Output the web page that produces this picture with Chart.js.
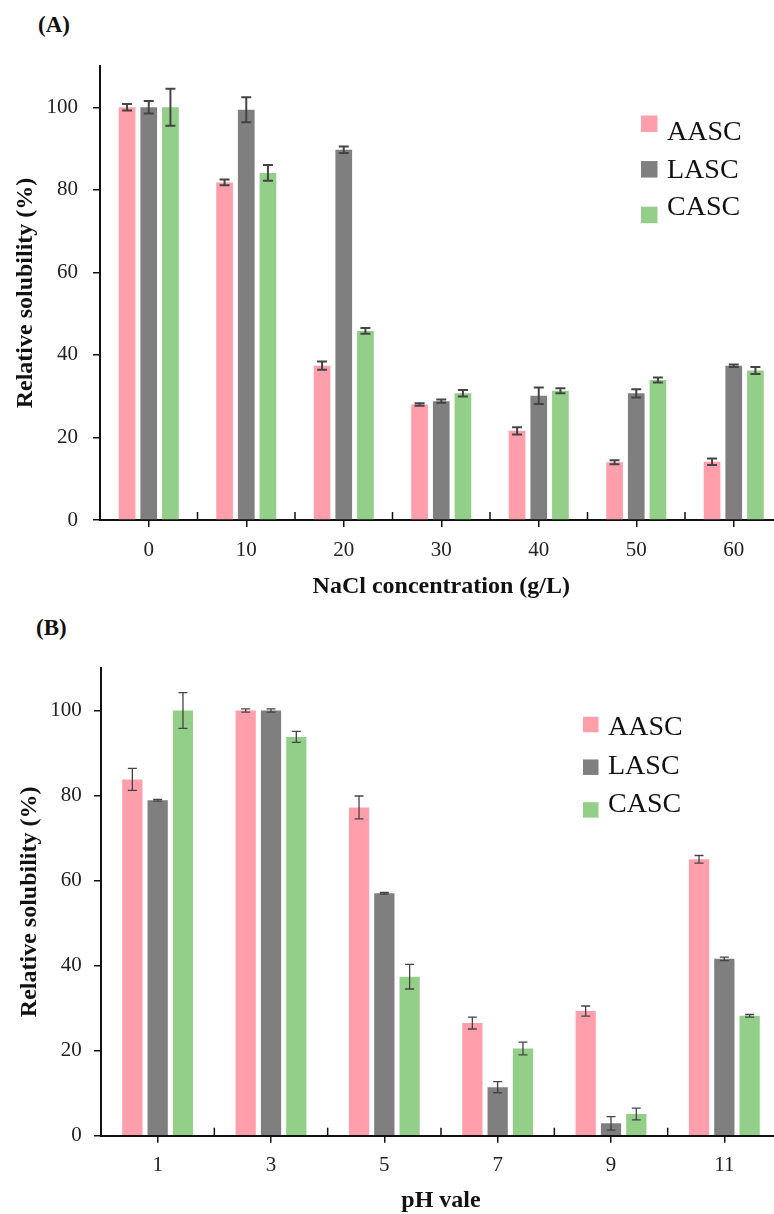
<!DOCTYPE html>
<html>
<head>
<meta charset="utf-8">
<script src="https://cdn.jsdelivr.net/npm/chart.js@4.4.1/dist/chart.umd.min.js"></script>
<style>
  html, body { margin: 0; padding: 0; background: #fff; overflow: hidden; width: 774px; height: 1214px; }
  canvas { position: absolute; left: 0; }
  .tag { position: absolute; font: bold 23px "Liberation Serif", serif; line-height: 23px; color: #111; }
</style>
</head>
<body>
<div class="tag" style="left:38px; top:13px">(A)</div>
<div class="tag" style="left:36px; top:616px">(B)</div>
<canvas id="naclChart" width="790" height="610" style="top:0"></canvas>
<canvas id="phChart" width="790" height="604" style="top:610px"></canvas>
<script>
// series names
const seriesNames = ['AASC', 'LASC', 'CASC'];

// (A) NaCl concentration (g/L)
const naclLabels = ['0', '10', '20', '30', '40', '50', '60'];
const naclAASC = [100, 81.8, 37.4, 28.0, 21.6, 14.0, 14.1];
const naclAASCErr = [0.8, 0.7, 1.0, 0.3, 0.9, 0.5, 0.8];
const naclLASC = [100, 99.4, 89.7, 28.8, 30.1, 30.7, 37.4];
const naclLASCErr = [1.5, 3.0, 0.8, 0.4, 2.0, 1.0, 0.3];
const naclCASC = [100, 84.1, 45.8, 30.7, 31.3, 33.9, 36.2];
const naclCASCErr = [4.5, 1.9, 0.7, 0.8, 0.6, 0.6, 0.85];

// (B) pH
const phLabels = ['1', '3', '5', '7', '9', '11'];
const phAASC = [83.8, 100, 77.2, 26.5, 29.3, 65.0];
const phAASCErr = [2.6, 0.4, 2.7, 1.4, 1.2, 0.9];
const phLASC = [78.9, 100, 57.0, 11.4, 2.9, 41.6];
const phLASCErr = [0.2, 0.4, 0.2, 1.3, 1.6, 0.4];
const phCASC = [100, 93.8, 37.4, 20.5, 5.1, 28.2];
const phCASCErr = [4.2, 1.3, 2.9, 1.5, 1.4, 0.3];

const yTicks = [0, 20, 40, 60, 80, 100];
const yMax = 110;

const barColors = ['#ff9fac', '#7f7f7f', '#93cf88'];
const serif = '"Liberation Serif", "Times New Roman", serif';

// error bars drawn on top of the bars
const errorBars = {
  id: 'errorBars',
  afterDatasetsDraw(chart, args, opts) {
    const ctx = chart.ctx;
    const y = chart.scales.y;
    ctx.save();
    ctx.strokeStyle = opts.color;
    ctx.lineWidth = opts.width;
    chart.data.datasets.forEach((ds, i) => {
      const meta = chart.getDatasetMeta(i);
      meta.data.forEach((bar, j) => {
        const v = ds.data[j], e = ds.errors[j];
        const top = y.getPixelForValue(v + e);
        const bot = y.getPixelForValue(v - e);
        const half = opts.cap / 2;
        ctx.beginPath();
        ctx.moveTo(bar.x, top); ctx.lineTo(bar.x, bot);
        ctx.moveTo(bar.x - half, top); ctx.lineTo(bar.x + half, top);
        ctx.moveTo(bar.x - half, bot); ctx.lineTo(bar.x + half, bot);
        ctx.stroke();
      });
    });
    ctx.restore();
  }
};

// small upward ticks between categories
const boundaryTicks = {
  id: 'boundaryTicks',
  afterDraw(chart, args, opts) {
    const ctx = chart.ctx;
    const x = chart.scales.x;
    const base = chart.chartArea.bottom;
    ctx.save();
    ctx.strokeStyle = '#111';
    ctx.lineWidth = 1.5;
    for (let i = 0; i <= chart.data.labels.length; i++) {
      const px = x.getPixelForValue(i - 0.5);
      ctx.beginPath();
      ctx.moveTo(px, base);
      ctx.lineTo(px, base - opts.len);
      ctx.stroke();
    }
    ctx.restore();
  }
};

// legend box in the upper right
const sideLegend = {
  id: 'sideLegend',
  afterDraw(chart, args, o) {
    const ctx = chart.ctx;
    ctx.save();
    ctx.font = o.size + 'px ' + serif;
    ctx.textBaseline = 'middle';
    ctx.fillStyle = '#111';
    chart.data.datasets.forEach((ds, i) => {
      ctx.fillStyle = ds.backgroundColor;
      ctx.fillRect(o.boxX, o.boxY + i * o.boxGap - o.box / 2, o.box, o.box);
      ctx.fillStyle = '#111';
      ctx.fillText(ds.label, o.textX, o.textY + i * o.textGap);
    });
    ctx.restore();
  }
};

function makeChart(id, labels, values, errors, cfg) {
  return new Chart(document.getElementById(id), {
    type: 'bar',
    data: {
      labels,
      datasets: seriesNames.map((name, i) => ({
        label: name,
        data: values[i],
        errors: errors[i],
        backgroundColor: barColors[i],
        barPercentage: cfg.barPct,
        categoryPercentage: cfg.catPct
      }))
    },
    options: {
      responsive: false,
      animation: false,
      layout: { padding: cfg.padding },
      plugins: {
        legend: { display: false },
        tooltip: { enabled: false },
        errorBars: { color: '#444', width: cfg.errWidth, cap: cfg.cap },
        boundaryTicks: { len: 8 },
        sideLegend: cfg.legend
      },
      scales: {
        x: {
          offset: true,
          border: { display: true, color: '#111', width: 2 },
          grid: { offset: false, drawOnChartArea: false, tickLength: 7, color: '#111', lineWidth: 1.5 },
          ticks: { padding: cfg.xTickPad, color: '#222', font: { family: serif, size: 21 } },
          title: {
            display: true, text: cfg.xTitle, color: '#111',
            font: { family: serif, size: 24, weight: 'bold', lineHeight: 1.1 },
            padding: { top: 0, bottom: cfg.xTitlePad }
          },
          afterFit: s => { s.height = cfg.xHeight; }
        },
        y: {
          min: 0,
          max: yMax,
          afterBuildTicks: s => { s.ticks = yTicks.map(v => ({ value: v })); },
          border: { display: true, color: '#111', width: 2 },
          grid: { drawOnChartArea: false, tickLength: 7, color: '#111', lineWidth: 1.5 },
          ticks: { padding: cfg.yTickPad, color: '#222', font: { family: serif, size: 21 } },
          title: {
            display: true, text: 'Relative solubility (%)', color: '#111',
            font: { family: serif, size: 24, weight: 'bold', lineHeight: 1.2 },
            padding: { top: cfg.yTitlePad, bottom: 0 }
          },
          afterFit: s => { s.width = cfg.yWidth; }
        }
      }
    },
    plugins: [errorBars, boundaryTicks, sideLegend]
  });
}

makeChart('naclChart', naclLabels,
  [naclAASC, naclLASC, naclCASC], [naclAASCErr, naclLASCErr, naclCASCErr], {
    barPct: 0.77, catPct: 0.667,
    padding: { top: 66, right: 7.5, left: 0, bottom: 0 },
    errWidth: 2, cap: 10,
    xTickPad: 11, xTitle: 'NaCl concentration (g/L)', xTitlePad: 10, xHeight: 90,
    yTickPad: 15, yTitlePad: 11, yWidth: 100,
    legend: { size: 28, box: 16.5, boxX: 641, boxY: 123.7, boxGap: 45.6, textX: 667, textY: 133, textGap: 37.5 }
  });

makeChart('phChart', phLabels,
  [phAASC, phLASC, phCASC], [phAASCErr, phLASCErr, phCASCErr], {
    barPct: 0.8, catPct: 0.67,
    padding: { top: 58, right: 9, left: 0, bottom: 0 },
    errWidth: 1.3, cap: 9,
    xTickPad: 9.7, xTitle: 'pH vale', xTitlePad: 0, xHeight: 78.3,
    yTickPad: 12.3, yTitlePad: 15.6, yWidth: 101,
    legend: { size: 28, box: 15.5, boxX: 583, boxY: 114.5, boxGap: 42.7, textX: 608, textY: 117.5, textGap: 38.8 }
  });
</script>
</body>
</html>
